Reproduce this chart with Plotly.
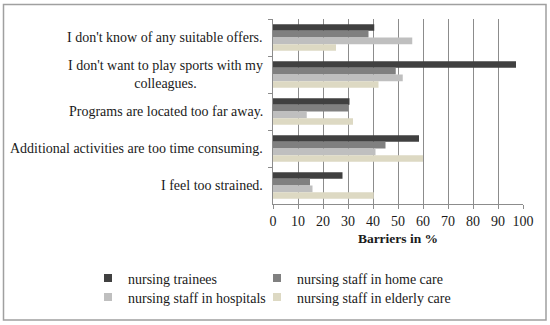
import plotly.graph_objects as go

categories = [
    "I don't know of any suitable offers.",
    "I don't want to play sports with my<br>colleagues.",
    "Programs are located too far away.",
    "Additional activities are too time consuming.",
    "I feel too strained.",
]
series_names = [
    "nursing trainees",
    "nursing staff in home care",
    "nursing staff in hospitals",
    "nursing staff in elderly care",
]
trainees = [40.5, 97.2, 30.6, 58.4, 27.8]
home_care = [38.2, 49.1, 30.1, 45.0, 14.8]
hospitals = [55.7, 51.9, 13.5, 41.0, 15.8]
elderly_care = [25.2, 42.2, 32.0, 60.0, 40.3]
colors = ["#404040", "#808080", "#bfbfbf", "#ddd9c3"]
x_ticks = list(range(0, 101, 10))

W, H = 550, 325
ml, mr, mt, mb = 273, 27, 19, 121
pw, ph = W - ml - mr, H - mt - mb


def px_x(px):
    return (px - ml) / pw


def px_y(py):
    return (H - mb - py) / ph


font = "Liberation Serif"
fig = go.Figure()
legends = ["legend", "legend", "legend2", "legend2"]
entry_w = [124, 220, 124, 220]
for name, vals, col, lg, ew in zip(series_names, [trainees, home_care, hospitals, elderly_care],
                                   colors, legends, entry_w):
    fig.add_trace(go.Bar(y=categories, x=vals, name=name, orientation="h",
                         marker=dict(color=col, line=dict(width=0)), showlegend=False))
    fig.add_trace(go.Scatter(x=[None], y=[None], mode="markers", name=name, legend=lg,
                             legendwidth=ew,
                             marker=dict(symbol="square", size=8, color=col), showlegend=True))

leg_common = dict(orientation="h", xanchor="left", yanchor="middle",
                  entrywidth=124, entrywidthmode="pixels", itemwidth=30,
                  bgcolor="rgba(0,0,0,0)", borderwidth=0,
                  font=dict(family=font, size=14, color="#1a1a1a"), traceorder="normal")

fig.update_layout(
    width=W, height=H,
    margin=dict(l=ml, r=mr, t=mt, b=mb, autoexpand=False),
    paper_bgcolor="white", plot_bgcolor="white",
    barmode="group", bargap=0.28, bargroupgap=0,
    font=dict(family=font, size=13, color="#1a1a1a"),
    showlegend=True,
    legend=dict(x=px_x(88), y=px_y(278.5), **leg_common),
    legend2=dict(x=px_x(88), y=px_y(297.5), **leg_common),
    xaxis=dict(range=[0, 100], tickvals=x_ticks, ticktext=[str(v) for v in x_ticks],
               showgrid=True, gridcolor="#8c8c8c", gridwidth=1,
               showline=True, linecolor="#8c8c8c", ticks="outside", ticklen=4,
               tickcolor="#8c8c8c", zeroline=False,
               tickfont=dict(family=font, size=14),
               title=dict(text="<b>Barriers in %</b>", font=dict(family=font, size=13.5), standoff=5)),
    yaxis=dict(autorange="reversed", showline=True, linecolor="#8c8c8c",
               ticks="outside", tickson="boundaries", ticklen=4, tickcolor="#8c8c8c",
               showgrid=False, showticklabels=False),
)
for cat in categories:
    fig.add_annotation(text=cat, x=px_x(265), xref="paper", y=cat, yref="y",
                       xanchor="right", yanchor="middle", align="center", showarrow=False,
                       font=dict(family=font, size=14, color="#1a1a1a"))
fig.add_shape(type="rect", xref="paper", yref="paper",
              x0=px_x(3.5), x1=px_x(546), y0=px_y(320), y1=px_y(4.5),
              line=dict(color="#a0a0a0", width=1.5), layer="below")
fig.write_html("out.html", config={"displayModeBar": False},
               post_script="document.body.style.margin='0';")
